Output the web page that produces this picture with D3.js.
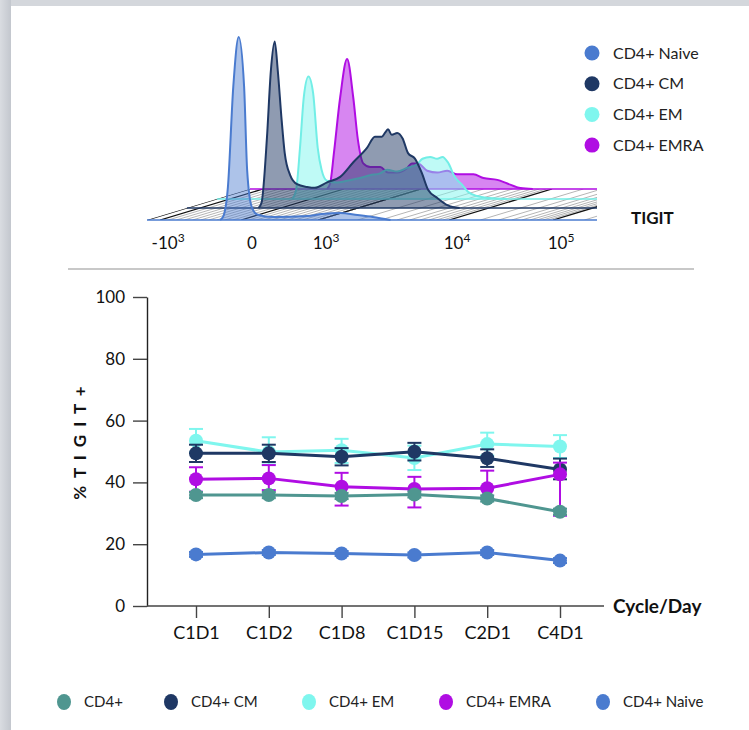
<!DOCTYPE html>
<html>
<head>
<meta charset="utf-8">
<script src="https://cdn.jsdelivr.net/npm/d3@7"></script>
<style>
  body { margin: 0; background: #fff; }
  svg { display: block; font-family: Lato, "Open Sans", sans-serif; }
</style>
</head>
<body>
<script>
// ---- data ----------------------------------------------------------------

// TIGIT histograms: [position on the biexponential axis (decade units), relative count]
const histNaive = [[-0.27, 0], [-0.23, 2], [-0.17, 18], [-0.10, 73], [-0.03, 100], [0.04, 73], [0.08, 27],
  [0.14, 7], [0.21, 3], [0.42, 1.6], [0.86, 2.2], [1.05, 3.3], [1.29, 3.8], [1.51, 2.7], [1.71, 1.6], [1.94, 0]];
const histCM = [[-0.29, 0], [-0.25, 3], [-0.18, 39], [-0.13, 75], [-0.08, 91], [-0.04, 75], [0.01, 48], [0.05, 30],
  [0.12, 18], [0.21, 13], [0.34, 11.5], [0.44, 11], [0.60, 14], [0.77, 17], [0.94, 25], [1.12, 33], [1.22, 39],
  [1.31, 39], [1.35, 41], [1.39, 43], [1.44, 40], [1.51, 41], [1.58, 38], [1.65, 30], [1.74, 27], [1.83, 19],
  [1.91, 10], [2.03, 5.5], [2.16, 1.6], [2.32, 0]];
const histEM = [[-0.24, 0], [-0.19, 5], [-0.14, 28], [-0.09, 56], [-0.03, 67], [0.03, 58], [0.09, 28], [0.14, 16],
  [0.21, 10], [0.34, 9], [0.47, 10], [0.64, 11.5], [0.77, 13], [0.90, 14], [0.99, 16], [1.12, 15], [1.25, 17],
  [1.38, 19], [1.45, 22], [1.55, 23], [1.64, 22], [1.71, 23], [1.78, 20], [1.87, 12], [1.96, 8], [2.04, 4],
  [2.16, 1.6], [2.32, 0.5], [2.55, 0]];
const histEMRA = [[-0.22, 0], [-0.18, 3], [-0.13, 20], [-0.05, 50], [0.04, 71], [0.12, 50], [0.18, 27], [0.25, 14],
  [0.34, 12], [0.47, 12], [0.57, 9], [0.69, 9], [0.82, 11.5], [0.88, 14], [0.96, 14], [1.08, 10], [1.21, 9],
  [1.34, 10], [1.47, 8], [1.68, 8], [1.81, 6], [1.99, 5], [2.12, 3], [2.29, 0.5], [2.45, 0]];

// biexponential axis: decade positions and their labels
const decadePos = [-1.05, 0, 1, 2.7, 4.05];
const decadeBase = ["-10", "0", "10", "10", "10"];
const decadeExp = ["3", "", "3", "4", "5"];

// % TIGIT+ over time
const days = ["C1D1", "C1D2", "C1D8", "C1D15", "C2D1", "C4D1"];
const yTicks = [0, 20, 40, 60, 80, 100];

const cd4Mean = [35.9, 35.9, 35.6, 36.1, 34.8, 30.5];
const cd4ErrUp = [1.0, 1.0, 1.0, 1.0, 1.0, 1.0];
const cd4ErrDown = [1.0, 1.0, 1.0, 1.0, 1.0, 1.0];

const cmMean = [49.4, 49.4, 48.3, 49.9, 47.8, 44.2];
const cmErrUp = [2.8, 2.8, 2.8, 2.9, 2.9, 3.5];
const cmErrDown = [2.8, 2.8, 2.8, 2.8, 2.8, 3.2];

const emMean = [53.5, 49.8, 50.4, 47.9, 52.4, 51.6];
const emErrUp = [3.8, 4.8, 3.7, 4.0, 3.7, 3.7];
const emErrDown = [3.8, 4.0, 4.1, 3.9, 3.7, 3.7];

const emraMean = [41.0, 41.3, 38.6, 37.9, 38.1, 42.6];
const emraErrUp = [3.9, 4.3, 4.5, 3.9, 5.7, 3.8];
const emraErrDown = [4.0, 3.8, 6.1, 6.0, 3.5, 13.4];

const naiveMean = [16.7, 17.3, 17.0, 16.5, 17.3, 14.7];
const naiveErrUp = [0.8, 0.8, 0.8, 0.8, 0.8, 0.8];
const naiveErrDown = [0.8, 0.8, 0.8, 0.8, 0.8, 0.8];

// colours
const cTeal = "#4f9690", cNavy = "#1f3864", cCyan = "#7ff6ee", cPurple = "#b00de3", cBlue = "#4a7bcf";

// ---- canvas ---------------------------------------------------------------

const width = 749, height = 730;

const svg = d3.select("body")
  .append("svg")
  .attr("width", width)
  .attr("height", height);

const defs = svg.append("defs");

// slide frame: grey strip on the left and at the top
const grad = defs.append("linearGradient").attr("id", "edge");
grad.append("stop").attr("offset", "0%").attr("stop-color", "#d9dce1");
grad.append("stop").attr("offset", "100%").attr("stop-color", "#c3c7ce");

svg.append("rect").attr("width", width).attr("height", height).attr("fill", "#d4d7dc");
svg.append("rect").attr("width", 11).attr("height", height).attr("fill", "url(#edge)");
svg.append("rect").attr("x", 11).attr("y", 6).attr("width", width - 11).attr("height", height - 6).attr("fill", "#fff");

// ---- 1. staggered TIGIT histograms ------------------------------------------

const floorY = 220, floorLeft = 147, floorRight = 597;
const depthDx = 103, depthDy = 31;

const xHist = d3.scaleLinear().domain([-1.22, 4.62]).range([floorLeft, floorRight]);
const yHist = d3.scaleLinear().domain([0, 100]).range([0, 183]);

// back layer first
const layers = [
  { name: "CD4+ EMRA", data: histEMRA, color: cPurple, depth: 31, opacity: 0.5, stroke: cPurple },
  { name: "CD4+ EM", data: histEM, color: cCyan, depth: 21, opacity: 0.5, stroke: "#72eee6" },
  { name: "CD4+ CM", data: histCM, color: cNavy, depth: 12, opacity: 0.5, stroke: cNavy },
  { name: "CD4+ Naive", data: histNaive, color: cBlue, depth: 0, opacity: 0.45, stroke: cBlue }
];
layers.forEach(l => { l.shift = l.depth * depthDx / depthDy; l.base = floorY - l.depth; });

// the floor is a parallelogram; diagonal grid lines run from front to back
defs.append("clipPath").attr("id", "floorClip")
  .append("polygon")
  .attr("points", [[floorLeft, floorY], [floorRight, floorY], [floorRight, floorY - depthDy],
    [floorLeft + depthDx, floorY - depthDy]].map(p => p.join(",")).join(" "));

const minorPos = [];
d3.range(-900, 1000, 100).forEach(v => { if (v !== 0) minorPos.push(v < 0 ? v / 1000 * 1.05 : v / 1000); });
for (let i = 2; i < decadePos.length; i++) {
  const a = decadePos[i - 1] > 0 ? decadePos[i - 1] : 1;
  const b = decadePos[i];
  d3.range(2, 10).forEach(m => minorPos.push(a + (b - a) * Math.log10(m)));
}
d3.range(2, 10).forEach(m => minorPos.push(4.05 + 1.35 * Math.log10(m)));

const floor = svg.append("g").attr("clip-path", "url(#floorClip)");

floor.selectAll("line.minor")
  .data(minorPos)
  .join("line")
  .attr("class", "minor")
  .attr("x1", d => xHist(d)).attr("y1", floorY)
  .attr("x2", d => xHist(d) + depthDx).attr("y2", floorY - depthDy)
  .attr("stroke", "#b5b5b5")
  .attr("stroke-width", 1);

floor.selectAll("line.major")
  .data([-1.22].concat(decadePos))
  .join("line")
  .attr("class", "major")
  .attr("x1", d => xHist(d)).attr("y1", floorY)
  .attr("x2", d => xHist(d) + depthDx).attr("y2", floorY - depthDy)
  .attr("stroke", "#111")
  .attr("stroke-width", 1.3);

// each population: filled curve plus its own baseline
layers.forEach(l => {
  const g = svg.append("g");

  g.append("line")
    .attr("x1", floorLeft + l.shift).attr("x2", floorRight)
    .attr("y1", l.base).attr("y2", l.base)
    .attr("stroke", l.stroke)
    .attr("stroke-width", 1.6);

  const area = d3.area()
    .curve(d3.curveMonotoneX)
    .x(d => xHist(d[0]) + l.shift)
    .y0(l.base)
    .y1(d => l.base - yHist(d[1]));

  g.append("path")
    .datum(l.data)
    .attr("d", area)
    .attr("fill", l.color)
    .attr("fill-opacity", l.opacity);

  g.append("path")
    .datum(l.data)
    .attr("d", area.lineY1())
    .attr("fill", "none")
    .attr("stroke", l.stroke)
    .attr("stroke-width", 2);
});

// axis labels under the floor
const decLabels = svg.append("g")
  .selectAll("text")
  .data(decadePos)
  .join("text")
  .attr("x", (d, i) => xHist(d) + (decadeExp[i] ? 8 : 11))
  .attr("y", 249)
  .attr("text-anchor", "middle")
  .attr("font-size", 17)
  .attr("fill", "#111");
decLabels.append("tspan").text((d, i) => decadeBase[i]);
decLabels.append("tspan")
  .attr("font-size", 12)
  .attr("dy", -7)
  .text((d, i) => decadeExp[i]);

svg.append("text")
  .attr("x", 631).attr("y", 224)
  .attr("font-size", 17).attr("font-weight", 700)
  .attr("fill", "#111")
  .text("TIGIT");

// legend, top right
const topLegend = svg.append("g")
  .selectAll("g")
  .data(layers.slice().reverse())
  .join("g")
  .attr("transform", (d, i) => `translate(592, ${53 + i * 30.7})`);
topLegend.append("circle").attr("r", 7.5).attr("fill", d => d.color);
topLegend.append("text")
  .attr("x", 21).attr("dy", "0.35em")
  .attr("font-size", 16).attr("fill", "#222")
  .text(d => d.name);

// separator
svg.append("line")
  .attr("x1", 68).attr("x2", 694)
  .attr("y1", 269).attr("y2", 269)
  .attr("stroke", "#c8c8c8")
  .attr("stroke-width", 2);

// ---- 2. % TIGIT+ by cycle/day -----------------------------------------------

const plotLeft = 147, plotRight = 604, plotTop = 297, plotBottom = 606;

const xLine = d3.scalePoint().domain(days).range([196, 560]);
const yLine = d3.scaleLinear().domain([0, 100]).range([plotBottom, plotTop]);

const yAxis = svg.append("g")
  .attr("transform", `translate(${plotLeft},0)`)
  .call(d3.axisLeft(yLine).tickValues(yTicks).tickSize(14).tickPadding(8).tickSizeOuter(0));
yAxis.select(".domain").attr("stroke", "#222").attr("stroke-width", 1.4);
yAxis.selectAll(".tick line").attr("stroke", "#444").attr("stroke-width", 1.4);
yAxis.selectAll(".tick text").attr("font-size", 17).attr("fill", "#111").attr("font-family", "Lato, sans-serif");

const xAxis = svg.append("g")
  .attr("transform", `translate(0,${plotBottom})`)
  .call(d3.axisBottom(xLine).tickSize(12).tickPadding(8).tickSizeOuter(0));
xAxis.select(".domain").remove();
xAxis.selectAll(".tick line").attr("stroke", "#444").attr("stroke-width", 1.4);
xAxis.selectAll(".tick text").attr("font-size", 18).attr("fill", "#111").attr("font-family", "Lato, sans-serif");

svg.append("line")
  .attr("x1", plotLeft).attr("x2", plotRight)
  .attr("y1", plotBottom).attr("y2", plotBottom)
  .attr("stroke", "#444").attr("stroke-width", 1.4);

svg.append("text")
  .attr("x", 613).attr("y", 613)
  .attr("font-size", 19).attr("font-weight", 700).attr("fill", "#111")
  .text("Cycle/Day");

svg.append("text")
  .attr("transform", "translate(86,442) rotate(-90)")
  .attr("text-anchor", "middle")
  .attr("font-size", 17).attr("font-weight", 700).attr("fill", "#111")
  .attr("letter-spacing", 2)
  .text("% T I G I T +");

// drawing order: EM, CM, EMRA, CD4+, Naive
const series = [
  { name: "CD4+ EM", color: cCyan, mean: emMean, up: emErrUp, down: emErrDown },
  { name: "CD4+ CM", color: cNavy, mean: cmMean, up: cmErrUp, down: cmErrDown },
  { name: "CD4+ EMRA", color: cPurple, mean: emraMean, up: emraErrUp, down: emraErrDown },
  { name: "CD4+", color: cTeal, mean: cd4Mean, up: cd4ErrUp, down: cd4ErrDown },
  { name: "CD4+ Naive", color: cBlue, mean: naiveMean, up: naiveErrUp, down: naiveErrDown }
];

const line = d3.line().x(d => xLine(d.day)).y(d => yLine(d.v));

series.forEach(s => {
  const pts = days.map((day, i) => ({ day: day, v: s.mean[i], hi: s.mean[i] + s.up[i], lo: s.mean[i] - s.down[i] }));
  const g = svg.append("g");

  const err = g.selectAll("g.err").data(pts).join("g").attr("class", "err")
    .attr("stroke", s.color).attr("stroke-width", 2);
  err.append("line")
    .attr("x1", d => xLine(d.day)).attr("x2", d => xLine(d.day))
    .attr("y1", d => yLine(d.hi)).attr("y2", d => yLine(d.lo));
  err.append("line")
    .attr("x1", d => xLine(d.day) - 7).attr("x2", d => xLine(d.day) + 7)
    .attr("y1", d => yLine(d.hi)).attr("y2", d => yLine(d.hi));
  err.append("line")
    .attr("x1", d => xLine(d.day) - 7).attr("x2", d => xLine(d.day) + 7)
    .attr("y1", d => yLine(d.lo)).attr("y2", d => yLine(d.lo));

  g.append("path")
    .datum(pts)
    .attr("d", line)
    .attr("fill", "none")
    .attr("stroke", s.color)
    .attr("stroke-width", 3);

  g.selectAll("circle")
    .data(pts)
    .join("circle")
    .attr("cx", d => xLine(d.day))
    .attr("cy", d => yLine(d.v))
    .attr("r", 7)
    .attr("fill", s.color);
});

// legend, bottom
const legendOrder = ["CD4+", "CD4+ CM", "CD4+ EM", "CD4+ EMRA", "CD4+ Naive"];
const legendX = [64, 171, 309, 446, 603];
const bottomLegend = svg.append("g")
  .selectAll("g")
  .data(legendOrder.map(n => series.find(s => s.name === n)))
  .join("g")
  .attr("transform", (d, i) => `translate(${legendX[i]}, 702)`);
bottomLegend.append("ellipse").attr("rx", 7).attr("ry", 8).attr("fill", d => d.color);
bottomLegend.append("text")
  .attr("x", 20).attr("dy", "0.35em")
  .attr("font-size", 15).attr("fill", "#222")
  .text(d => d.name);
</script>
</body>
</html>
